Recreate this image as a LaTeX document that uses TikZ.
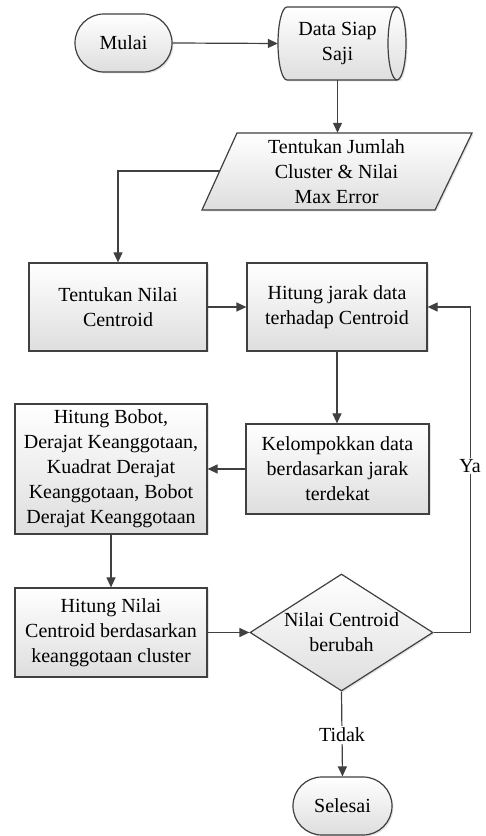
\documentclass[tikz,border=0pt]{standalone}
\usepackage{fontspec}
\setmainfont{Liberation Serif}
\usetikzlibrary{arrows.meta,shapes.geometric,shadows}
\begin{document}
\begin{tikzpicture}[x=1pt,y=1pt,
  lnc/.style={draw=black!75, line width=1.2pt},
  boxfill/.style={top color=white, bottom color=black!13},
  shad/.style={drop shadow={shadow xshift=1.5pt,shadow yshift=-1.5pt,fill=black!22}},
  txt/.style={align=center, inner sep=0pt, font=\fontsize{20}{25}\selectfont},
  proc/.style={rectangle, lnc, boxfill, shad, txt},
  term/.style={proc, rounded corners=28.9pt},
  arr/.style={lnc, -{Triangle[length=10pt,width=9pt]}},
  lbl/.style={fill=white, inner sep=1.5pt, font=\fontsize{20}{25}\selectfont},
]
\useasboundingbox (0,0) rectangle (485,836);
% cylinder (stored data)
\path[lnc, boxfill, shad] (287,829) -- (397,829)
  arc[start angle=90, end angle=-90, x radius=9, y radius=36.5]
  -- (287,756)
  arc[start angle=270, end angle=90, x radius=9, y radius=36.5] -- cycle;
\draw[lnc] (397,829) arc[start angle=90, end angle=270, x radius=9, y radius=36.5];
% parallelogram
\path[lnc, boxfill, shad] (237,703) -- (472,703) -- (435,626) -- (202,626) -- cycle;

\node[term, minimum width=97, minimum height=58] (mulai) at (123.5,793) {Mulai};
\node[txt, minimum width=119, minimum height=73] (data) at (337.5,792.5) {Data Siap\\Saji};
\node[txt, minimum width=200, minimum height=77] (param) at (336.5,664.5) {Tentukan Jumlah\\Cluster \& Nilai\\Max Error};
\coordinate (paramL) at (219.7,665);
\node[proc, minimum width=178, minimum height=88] (c1) at (118,529) {Tentukan Nilai\\Centroid};
\node[proc, minimum width=180, minimum height=88] (c2) at (337,529) {Hitung jarak data\\terhadap Centroid};
\node[proc, minimum width=183, minimum height=90] (c3) at (337.5,367) {Kelompokkan data\\berdasarkan jarak\\terdekat};
\node[proc, minimum width=192, minimum height=130] (c4) at (111,367) {Hitung Bobot,\\Derajat Keanggotaan,\\Kuadrat Derajat\\Keanggotaan, Bobot\\Derajat Keanggotaan};
\node[proc, minimum width=192, minimum height=89] (c5) at (111,203.5) {Hitung Nilai\\Centroid berdasarkan\\keanggotaan cluster};
\node[diamond, lnc, boxfill, shad, txt, aspect=1.56, minimum width=183, minimum height=117] (dia) at (341.5,203.5) {Nilai Centroid\\berubah};
\node[term, minimum width=99, minimum height=58] (selesai) at (342.5,30) {Selesai};

\draw[arr] (mulai.east) -- (data.west);
\draw[arr] (data.south) -- (data.south |- param.north);
\draw[arr] (paramL) -| (c1.north);
\draw[arr] (c1.east) -- (c2.west);
\draw[arr] (c2.south) -- (c2.south |- c3.north);
\draw[arr] (c3.west) -- (c4.east);
\draw[arr] (c4.south) -- (c5.north);
\draw[arr] (c5.east) -- (dia.west);
\draw[arr] (dia.east) -- ++(37,0) coordinate (yaR) |- (c2.east);
\node[lbl] (ya) at (470,370) {Ya};
\draw[arr] (dia.south) -- (selesai.north);
\node[lbl] (tidak) at (342,101) {Tidak};
\end{tikzpicture}
\end{document}
